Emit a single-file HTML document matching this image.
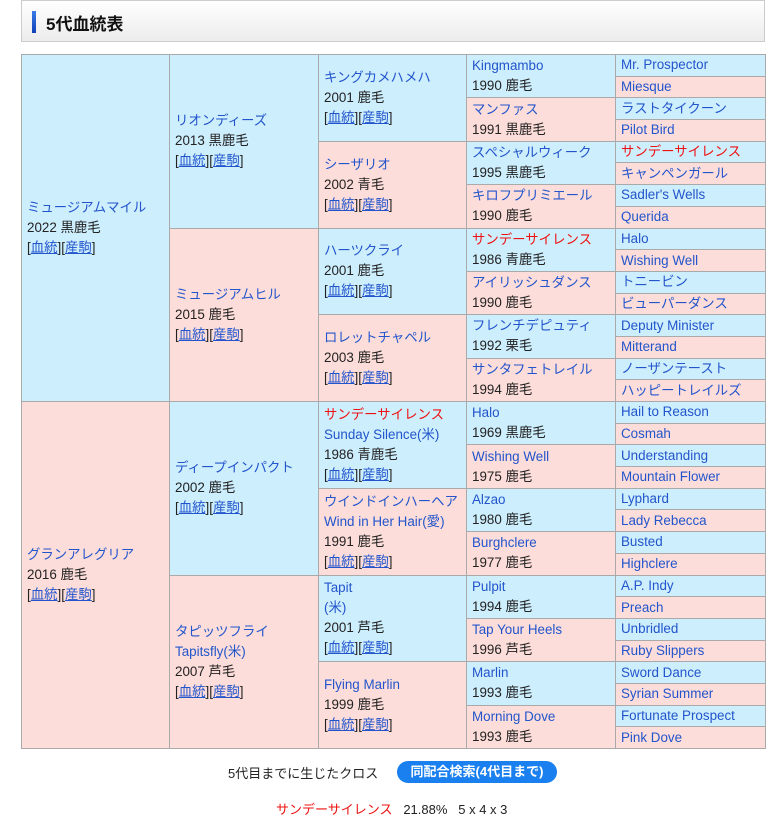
<!DOCTYPE html>
<html><head><meta charset="utf-8">
<style>
body{margin:0;background:#fff;width:782px;height:820px;overflow:hidden;font-family:"Liberation Sans","Noto Sans CJK JP",sans-serif;font-size:13px;color:#222;position:relative}
.hd{position:absolute;left:21px;top:0;width:742px;height:40px;border:1px solid #ccc;background:linear-gradient(#fff,#ececec);}
.hd .bar{position:absolute;left:10px;top:10px;width:4px;height:22px;background:linear-gradient(#3a7be8,#1040b8)}
.hd .t{position:absolute;left:24px;top:9px;font-size:17px;font-weight:bold;color:#111}
table{position:absolute;left:21px;top:54px;border-collapse:collapse;table-layout:fixed;width:744px}
td{border:1px solid #aaa;padding:0 0 0 5px;vertical-align:middle;line-height:20px;height:20.7px;overflow:hidden;white-space:nowrap;font-size:13.4px}
.b{background:#cdeefd}.p{background:#fdddd9}
a{color:#2255cc;text-decoration:none}
a.u{text-decoration:underline}
.r{color:#ee1111}
.cr{position:absolute;left:228px;top:763px;font-size:13px;color:#222}
.btn{position:absolute;left:397px;top:761px;width:160px;height:22px;border-radius:11px;background:#1a80f0;color:#fff;font-weight:bold;font-size:13px;text-align:center;line-height:22px}
.l2{position:absolute;left:276px;top:799px;font-size:13px;color:#222}
</style></head><body>
<div class="hd"><div class="bar"></div><div class="t">5代血統表</div></div>
<table>
<col style="width:148px"><col style="width:149px"><col style="width:148px"><col style="width:149px"><col style="width:150px">
<tr><td rowspan="16" class="b"><a>ミュージアムマイル</a><br>2022 黒鹿毛<br>[<a class="u">血統</a>][<a class="u">産駒</a>]</td>
<td rowspan="8" class="b"><a>リオンディーズ</a><br>2013 黒鹿毛<br>[<a class="u">血統</a>][<a class="u">産駒</a>]</td>
<td rowspan="4" class="b"><a>キングカメハメハ</a><br>2001 鹿毛<br>[<a class="u">血統</a>][<a class="u">産駒</a>]</td>
<td rowspan="2" class="b"><a>Kingmambo</a><br>1990 鹿毛</td><td class="b"><a>Mr. Prospector</a></td></tr>
<tr><td class="p"><a>Miesque</a></td></tr>
<tr><td rowspan="2" class="p"><a>マンファス</a><br>1991 黒鹿毛</td><td class="b"><a>ラストタイクーン</a></td></tr>
<tr><td class="p"><a>Pilot Bird</a></td></tr>
<tr><td rowspan="4" class="p"><a>シーザリオ</a><br>2002 青毛<br>[<a class="u">血統</a>][<a class="u">産駒</a>]</td>
<td rowspan="2" class="b"><a>スペシャルウィーク</a><br>1995 黒鹿毛</td><td class="b"><a class="r">サンデーサイレンス</a></td></tr>
<tr><td class="p"><a>キャンペンガール</a></td></tr>
<tr><td rowspan="2" class="p"><a>キロフプリミエール</a><br>1990 鹿毛</td><td class="b"><a>Sadler's Wells</a></td></tr>
<tr><td class="p"><a>Querida</a></td></tr>
<tr><td rowspan="8" class="p"><a>ミュージアムヒル</a><br>2015 鹿毛<br>[<a class="u">血統</a>][<a class="u">産駒</a>]</td>
<td rowspan="4" class="b"><a>ハーツクライ</a><br>2001 鹿毛<br>[<a class="u">血統</a>][<a class="u">産駒</a>]</td>
<td rowspan="2" class="b"><a class="r">サンデーサイレンス</a><br>1986 青鹿毛</td><td class="b"><a>Halo</a></td></tr>
<tr><td class="p"><a>Wishing Well</a></td></tr>
<tr><td rowspan="2" class="p"><a>アイリッシュダンス</a><br>1990 鹿毛</td><td class="b"><a>トニービン</a></td></tr>
<tr><td class="p"><a>ビューパーダンス</a></td></tr>
<tr><td rowspan="4" class="p"><a>ロレットチャペル</a><br>2003 鹿毛<br>[<a class="u">血統</a>][<a class="u">産駒</a>]</td>
<td rowspan="2" class="b"><a>フレンチデピュティ</a><br>1992 栗毛</td><td class="b"><a>Deputy Minister</a></td></tr>
<tr><td class="p"><a>Mitterand</a></td></tr>
<tr><td rowspan="2" class="p"><a>サンタフェトレイル</a><br>1994 鹿毛</td><td class="b"><a>ノーザンテースト</a></td></tr>
<tr><td class="p"><a>ハッピートレイルズ</a></td></tr>
<tr><td rowspan="16" class="p"><a>グランアレグリア</a><br>2016 鹿毛<br>[<a class="u">血統</a>][<a class="u">産駒</a>]</td>
<td rowspan="8" class="b"><a>ディープインパクト</a><br>2002 鹿毛<br>[<a class="u">血統</a>][<a class="u">産駒</a>]</td>
<td rowspan="4" class="b"><a class="r">サンデーサイレンス</a><br><a>Sunday Silence(米)</a><br>1986 青鹿毛<br>[<a class="u">血統</a>][<a class="u">産駒</a>]</td>
<td rowspan="2" class="b"><a>Halo</a><br>1969 黒鹿毛</td><td class="b"><a>Hail to Reason</a></td></tr>
<tr><td class="p"><a>Cosmah</a></td></tr>
<tr><td rowspan="2" class="p"><a>Wishing Well</a><br>1975 鹿毛</td><td class="b"><a>Understanding</a></td></tr>
<tr><td class="p"><a>Mountain Flower</a></td></tr>
<tr><td rowspan="4" class="p"><a>ウインドインハーヘア</a><br><a>Wind in Her Hair(愛)</a><br>1991 鹿毛<br>[<a class="u">血統</a>][<a class="u">産駒</a>]</td>
<td rowspan="2" class="b"><a>Alzao</a><br>1980 鹿毛</td><td class="b"><a>Lyphard</a></td></tr>
<tr><td class="p"><a>Lady Rebecca</a></td></tr>
<tr><td rowspan="2" class="p"><a>Burghclere</a><br>1977 鹿毛</td><td class="b"><a>Busted</a></td></tr>
<tr><td class="p"><a>Highclere</a></td></tr>
<tr><td rowspan="8" class="p"><a>タピッツフライ</a><br><a>Tapitsfly(米)</a><br>2007 芦毛<br>[<a class="u">血統</a>][<a class="u">産駒</a>]</td>
<td rowspan="4" class="b"><a>Tapit</a><br><a>(米)</a><br>2001 芦毛<br>[<a class="u">血統</a>][<a class="u">産駒</a>]</td>
<td rowspan="2" class="b"><a>Pulpit</a><br>1994 鹿毛</td><td class="b"><a>A.P. Indy</a></td></tr>
<tr><td class="p"><a>Preach</a></td></tr>
<tr><td rowspan="2" class="p"><a>Tap Your Heels</a><br>1996 芦毛</td><td class="b"><a>Unbridled</a></td></tr>
<tr><td class="p"><a>Ruby Slippers</a></td></tr>
<tr><td rowspan="4" class="p"><a>Flying Marlin</a><br>1999 鹿毛<br>[<a class="u">血統</a>][<a class="u">産駒</a>]</td>
<td rowspan="2" class="b"><a>Marlin</a><br>1993 鹿毛</td><td class="b"><a>Sword Dance</a></td></tr>
<tr><td class="p"><a>Syrian Summer</a></td></tr>
<tr><td rowspan="2" class="p"><a>Morning Dove</a><br>1993 鹿毛</td><td class="b"><a>Fortunate Prospect</a></td></tr>
<tr><td class="p"><a>Pink Dove</a></td></tr>
</table>
<div class="cr">5代目までに生じたクロス</div>
<div class="btn">同配合検索(4代目まで)</div>
<div class="l2"><span class="r">サンデーサイレンス</span>&nbsp;&nbsp;&nbsp;21.88%&nbsp;&nbsp;&nbsp;5 x 4 x 3</div>
</body></html>
